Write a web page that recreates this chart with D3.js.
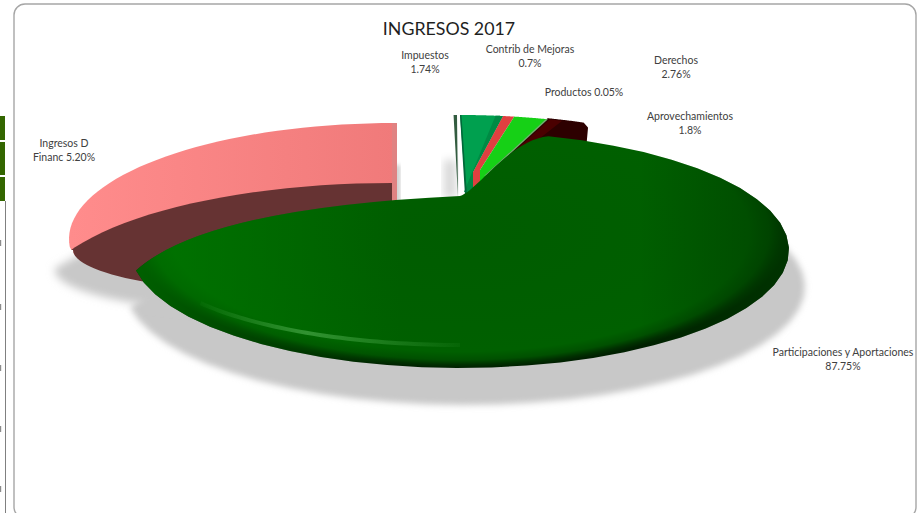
<!DOCTYPE html>
<html>
<head>
<meta charset="utf-8">
<script src="https://cdnjs.cloudflare.com/ajax/libs/d3/7.8.5/d3.min.js"></script>
<style>
  html, body { margin: 0; padding: 0; background: #fff; overflow: hidden; }
  svg { display: block; }
  text { font-family: Lato, "Open Sans", sans-serif; fill: #404040; }
</style>
</head>
<body>
<svg id="chart" width="921" height="513"></svg>
<script>
// slices in drawing order, clockwise from the top of the pie
const sliceNames = ['Productos', 'Derechos', 'Contrib de Mejoras', 'Impuestos', 'Aprovechamientos', 'Participaciones y Aportaciones', 'Ingresos D Financ']
// share of the ellipse each slice takes in the picture, in degrees (not the printed %)
const sliceDegrees = [0.6, 7.5, 2, 6, 6.5, 244, 93.4]
const sliceColors = ['#335c40', '#00a04f', '#e04040', '#16d016', '#2d0000', '#006200', '#f88484']

// printed labels
const labelLines = [
    ['Impuestos', '1.74%'],
    ['Contrib de Mejoras', '0.7%'],
    ['Productos 0.05%'],
    ['Derechos', '2.76%'],
    ['Aprovechamientos', '1.8%'],
    ['Ingresos D', 'Financ 5.20%'],
    ['Participaciones y Aportaciones', '87.75%']
]
const labelCenters = [[425, 59], [530, 53], [584, 96], [676, 64], [690, 120], [64, 147], [843, 356]]

// bits of the spreadsheet showing to the left of the chart
const cellRanges = [[116, 140], [142, 175], [177, 201]]
const clippedRows = [243, 307, 368, 429, 489]

const rad = d => d * Math.PI / 180

// ellipses the slices sit on
const mainE = { cx: 460, cy: 250, rx: 329, ry: 118 }
const mainShadowE = { cx: 465, cy: 287, rx: 340, ry: 118 }
const streakE = { cx: 460, cy: 250, rx: 313, ry: 95 }
const smallE = { cx: 460, cy: 232, rx: 329, ry: 117 }
const pinkE = { cx: 395, cy: 239, rx: 326, ry: 116 }
const pinkDarkE = { cx: 392, cy: 300, rx: 355, ry: 117 }
const pinkCutE = { cx: 303, cy: 250, rx: 230, ry: 44 }

const svg = d3.select('#chart')
const defs = svg.append('defs')

const blur = (id, s) => defs.append('filter')
    .attr('id', id)
    .attr('x', '-20%').attr('y', '-20%').attr('width', '140%').attr('height', '140%')
    .append('feGaussianBlur').attr('stdDeviation', s)
blur('soft', 3)
blur('softer', 4)
blur('thin', 2)

const mainGrad = defs.append('radialGradient')
    .attr('id', 'mainGrad')
    .attr('gradientUnits', 'userSpaceOnUse')
    .attr('cx', 0).attr('cy', 0).attr('r', 1)
    .attr('gradientTransform', 'translate(460,232) scale(329,136)')
mainGrad.selectAll('stop')
    .data([[0, '#005c00'], [0.7, '#005f00'], [0.88, '#006000'], [0.94, '#005000'], [0.975, '#003000'], [1, '#002000']])
    .enter().append('stop')
    .attr('offset', d => d[0])
    .attr('stop-color', d => d[1])

const tipGrad = defs.append('linearGradient')
    .attr('id', 'tipGrad')
    .attr('gradientUnits', 'userSpaceOnUse')
    .attr('x1', 136).attr('x2', 400).attr('y1', 0).attr('y2', 0)
tipGrad.append('stop').attr('offset', 0).attr('stop-color', '#007c00').attr('stop-opacity', 0.7)
tipGrad.append('stop').attr('offset', 1).attr('stop-color', '#007c00').attr('stop-opacity', 0)

const rightGrad = defs.append('linearGradient')
    .attr('id', 'rightGrad')
    .attr('gradientUnits', 'userSpaceOnUse')
    .attr('x1', 640).attr('x2', 789).attr('y1', 0).attr('y2', 0)
rightGrad.append('stop').attr('offset', 0).attr('stop-color', '#003c00').attr('stop-opacity', 0)
rightGrad.append('stop').attr('offset', 1).attr('stop-color', '#003c00').attr('stop-opacity', 0.7)

const pinkGrad = defs.append('linearGradient')
    .attr('id', 'pinkGrad')
    .attr('gradientUnits', 'userSpaceOnUse')
    .attr('x1', 70).attr('x2', 395).attr('y1', 0).attr('y2', 0)
pinkGrad.append('stop').attr('offset', 0).attr('stop-color', '#ff8c8c')
pinkGrad.append('stop').attr('offset', 1).attr('stop-color', '#f07a7a')

const streakGrad = defs.append('linearGradient')
    .attr('id', 'streakGrad')
    .attr('gradientUnits', 'userSpaceOnUse')
    .attr('x1', 190).attr('x2', 480).attr('y1', 0).attr('y2', 0)
streakGrad.append('stop').attr('offset', 0).attr('stop-color', '#3a9a3a').attr('stop-opacity', 0)
streakGrad.append('stop').attr('offset', 0.4).attr('stop-color', '#3a9a3a').attr('stop-opacity', 0.85)
streakGrad.append('stop').attr('offset', 1).attr('stop-color', '#3a9a3a').attr('stop-opacity', 0)

const onEllipse = (e, t) => [e.cx + e.rx * Math.sin(t), e.cy - e.ry * Math.cos(t)]
const arcPoints = (e, t0, t1) => d3.range(0, 41).map(i => onEllipse(e, t0 + (t1 - t0) * i / 40))

const wedge = (e, t0, t1, hubs) => d3.line()([...arcPoints(e, t0, t1), ...hubs]) + 'Z'

const arcs = d3.pie().sort(null).value(d => d)
    .startAngle(rad(-0.6)).endAngle(rad(359.4))(sliceDegrees)

// main slice: its edges bend into the notch, so they are curves and not straight lines
const mainStart = arcs[5].startAngle - rad(6.4)
const mainEnd = arcs[5].endAngle - rad(6)
const mainPath = e => {
    const dx = e.cx - mainE.cx, dy = e.cy - mainE.cy
    const p = d3.path()
    const pts = arcPoints(e, mainStart, mainEnd)
    p.moveTo(pts[0][0], pts[0][1])
    pts.slice(1).forEach(q => p.lineTo(q[0], q[1]))
    p.quadraticCurveTo(205 + dx, 208 + dy, 460 + dx, 196 + dy)
    p.bezierCurveTo(478 + dx, 190 + dy, 510 + dx, 140 + dy, pts[0][0], pts[0][1])
    p.closePath()
    return p.toString()
}

// shadows
svg.append('path')
    .attr('d', mainPath(mainShadowE))
    .attr('fill', '#c8c8c8')
    .attr('filter', 'url(#soft)')

const ellipseClip = defs.append('clipPath').attr('id', 'pinkClip')
ellipseClip.append('rect').attr('x', 0).attr('y', 0).attr('width', 921).attr('height', pinkCutE.cy)
ellipseClip.append('ellipse')
    .attr('cx', pinkCutE.cx).attr('cy', pinkCutE.cy)
    .attr('rx', pinkCutE.rx).attr('ry', pinkCutE.ry)

const pinkDarkPath = wedge(pinkDarkE, rad(-115), 0, [[pinkDarkE.cx, pinkDarkE.cy]])

svg.append('g')
    .attr('filter', 'url(#softer)')
    .append('g')
    .attr('transform', 'translate(-18,20)')
    .append('path')
    .attr('d', pinkDarkPath)
    .attr('clip-path', 'url(#pinkClip)')
    .attr('fill', '#c8c8c8')

// faint shadows in the gap between the pink slice and the small ones
svg.append('rect')
    .attr('x', 444).attr('y', 160).attr('width', 12).attr('height', 38)
    .attr('fill', '#d8d8d8')
    .attr('filter', 'url(#softer)')
svg.append('rect')
    .attr('x', 395).attr('y', 165).attr('width', 5).attr('height', 38)
    .attr('fill', '#c8c8c8')
    .attr('filter', 'url(#thin)')

// pink slice
const pinkG = svg.append('g').attr('clip-path', 'url(#pinkClip)')
pinkG.append('path')
    .attr('d', wedge(pinkE, arcs[6].startAngle, arcs[6].endAngle + rad(0.6), [[393, 260], [75, 256]]))
    .attr('fill', 'url(#pinkGrad)')
pinkG.append('line')
    .attr('x1', 394.5).attr('x2', 394.5).attr('y1', 123).attr('y2', 212)
    .attr('stroke', '#e08282').attr('stroke-width', 5)
pinkG.append('path')
    .attr('d', pinkDarkPath)
    .attr('fill', '#663333')

// small slices: the last hub closes the left edge, the first one carries on from the right edge
const smallHubs = [
    [[458, 197]],
    [[473, 172], [473, 192], [466, 195]],
    [[480, 170], [480, 192], [473, 192], [473, 172]],
    [[487, 175], [487, 192], [480, 192], [480, 170]],
    [[587, 128], [585, 150], [487, 175]]
]
const small = [0, 1, 2, 3, 4]
small.forEach(i => {
    const e = i === 0 ? { ...smallE, cx: smallE.cx - 3 } : smallE
    svg.append('path')
        .attr('d', wedge(e, arcs[i].startAngle, arcs[i].endAngle, smallHubs[i]))
        .attr('fill', sliceColors[i])
        .attr('stroke', i === 4 ? sliceColors[i] : 'none')
        .attr('stroke-width', i === 4 ? 2 : 0)
        .attr('stroke-linejoin', 'round')
})

// shading on the small slices
const side = (t0, t1, hubs, color) => svg.append('path')
    .attr('d', wedge(smallE, t0, t1, hubs))
    .attr('fill', color)
side(arcs[1].endAngle - rad(1.3), arcs[1].endAngle, [[473, 172], [473, 192], [464, 192]], '#008a44')
side(arcs[1].startAngle, arcs[1].startAngle + rad(0.25), [[467, 195], [465, 195]], '#00683a')
side(arcs[3].endAngle - rad(0.35), arcs[3].endAngle, [[487, 175], [484, 176]], '#6fb56f')
side(arcs[4].startAngle + rad(0.3), arcs[4].startAngle + rad(2.6), [[493, 175], [487, 176]], '#4a0000')

// main slice
const mainD = mainPath(mainE)
svg.append('path').attr('d', mainD).attr('fill', 'url(#mainGrad)')
svg.append('path').attr('d', mainD).attr('fill', 'url(#tipGrad)')
svg.append('path').attr('d', mainD).attr('fill', 'url(#rightGrad)')

defs.append('clipPath').attr('id', 'mainClip')
    .append('path').attr('d', mainD)
svg.append('g')
    .attr('clip-path', 'url(#mainClip)')
    .append('path')
    .attr('d', d3.line()(arcPoints(streakE, rad(180), rad(236))))
    .attr('fill', 'none')
    .attr('stroke', 'url(#streakGrad)')
    .attr('stroke-width', 4)

// chart frame
svg.append('rect')
    .attr('x', 14).attr('y', 4).attr('width', 902).attr('height', 514).attr('rx', 11)
    .attr('fill', 'none')
    .attr('stroke', '#a6a6a6')
    .attr('stroke-width', 1.4)

// spreadsheet leftovers
svg.selectAll('.cell')
    .data(cellRanges)
    .enter().append('rect')
    .attr('class', 'cell')
    .attr('x', 0).attr('width', 5)
    .attr('y', d => d[0]).attr('height', d => d[1] - d[0])
    .attr('fill', '#336600')
svg.append('line')
    .attr('x1', 5.5).attr('x2', 5.5).attr('y1', 201).attr('y2', 513)
    .attr('stroke', '#808080')
svg.selectAll('.clipped')
    .data(clippedRows)
    .enter().append('rect')
    .attr('class', 'clipped')
    .attr('x', 0).attr('width', 1.2)
    .attr('y', d => d - 3).attr('height', 6)
    .attr('fill', '#8c8c8c')

// texts
svg.append('text')
    .attr('x', 449).attr('y', 35)
    .attr('text-anchor', 'middle')
    .attr('font-size', 17.8)
    .style('fill', '#1f1f1f')
    .text('INGRESOS 2017')

labelLines.forEach((lines, i) => {
    const t = svg.append('text')
        .attr('text-anchor', 'middle')
        .attr('font-size', 10.5)
    lines.forEach((s, j) => {
        t.append('tspan')
            .attr('x', labelCenters[i][0])
            .attr('y', labelCenters[i][1] + j * 14)
            .text(s)
    })
})
</script>
</body>
</html>
